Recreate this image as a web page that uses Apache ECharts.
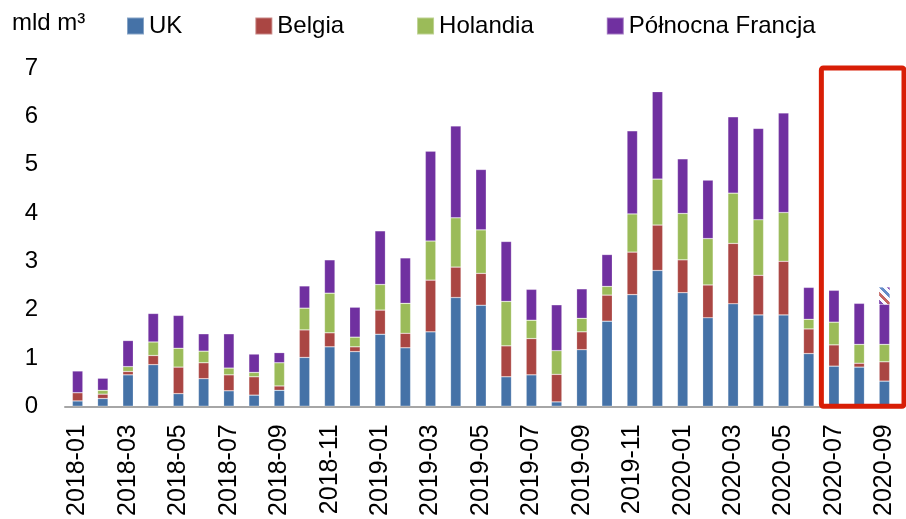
<!DOCTYPE html>
<html>
<head>
<meta charset="utf-8">
<script src="https://cdn.jsdelivr.net/npm/echarts@6/dist/echarts.min.js"></script>
<style>
html,body{margin:0;padding:0;background:#fff;}
#chart{width:906px;height:519px;}
</style>
</head>
<body>
<div id="chart"></div>
<script>
const categories = ['2018-01','2018-02','2018-03','2018-04','2018-05','2018-06','2018-07','2018-08','2018-09','2018-10','2018-11','2018-12',
  '2019-01','2019-02','2019-03','2019-04','2019-05','2019-06','2019-07','2019-08','2019-09','2019-10','2019-11','2019-12',
  '2020-01','2020-02','2020-03','2020-04','2020-05','2020-06','2020-07','2020-08','2020-09'];
const uk       = [0.11,0.16,0.65,0.86,0.26,0.57,0.32,0.23,0.33,1.01,1.23,1.13,1.49,1.21,1.54,2.25,2.09,0.61,0.65,0.09,1.17,1.76,2.31,2.81,2.35,1.83,2.12,1.89,1.89,1.09,0.83,0.81,0.52];
const belgia   = [0.17,0.09,0.07,0.19,0.55,0.33,0.33,0.38,0.09,0.57,0.29,0.10,0.50,0.30,1.07,0.63,0.66,0.64,0.75,0.57,0.37,0.54,0.88,0.94,0.68,0.68,1.25,0.82,1.11,0.51,0.44,0.08,0.40];
const holandia = [0.00,0.08,0.10,0.28,0.39,0.24,0.14,0.09,0.48,0.45,0.82,0.20,0.53,0.62,0.81,1.02,0.90,0.92,0.38,0.49,0.28,0.18,0.79,0.95,0.96,0.96,1.04,1.15,1.01,0.20,0.47,0.39,0.36];
const francja  = [0.45,0.25,0.54,0.59,0.68,0.36,0.71,0.38,0.21,0.46,0.69,0.62,1.11,0.94,1.86,1.90,1.25,1.24,0.64,0.95,0.61,0.66,1.72,1.81,1.13,1.21,1.58,1.89,2.06,0.66,0.66,0.85,0.83];
const prognoza = [null,null,null,null,null,null,null,null,null,null,null,null,null,null,null,null,null,null,null,null,null,null,null,null,null,null,null,null,null,null,null,null,0.35];
const yTicks = [0,1,2,3,4,5,6,7];
const unitLabel = 'mld m³';
const highlightFrom = '2020-07';

const FONT = '"Liberation Sans", Arial, sans-serif';

// hatch pattern (diagonal stripes)
function makeHatch(){
  const N = 24;
  const c = document.createElement('canvas');
  c.width = N; c.height = N;
  const ctx = c.getContext('2d');
  const img = ctx.createImageData(N, N);
  const cols = [[128,72,176],[250,250,255],[196,100,96],[250,250,255],[100,140,200],[250,250,255]];
  for (let y = 0; y < N; y++) {
    for (let x = 0; x < N; x++) {
      const d = ((x - y) % N + N) % N;
      const col = cols[Math.floor(d / (N / 6))];
      const i = (y * N + x) * 4;
      img.data[i] = col[0]; img.data[i+1] = col[1]; img.data[i+2] = col[2]; img.data[i+3] = 255;
    }
  }
  ctx.putImageData(img, 0, 0);
  return c;
}

const chart = echarts.init(document.getElementById('chart'), null, {renderer: 'canvas'});
const barW = 10.5;
function bar(name, data, color){
  return {
    name, type: 'bar', stack: 'total', data, barWidth: barW,
    itemStyle: {color, borderColor: 'rgba(255,255,255,0.35)', borderWidth: 0.6},
    emphasis: {disabled: true}
  };
}
const option = {
  animation: false,
  textStyle: {fontFamily: FONT},
  title: {
    text: unitLabel, left: 7, top: 6,
    textStyle: {fontFamily: FONT, fontSize: 24, fontWeight: 'normal', color: '#000'}
  },
  legend: {
    data: ['UK','Belgia','Holandia','Północna Francja'],
    left: 121, top: 9,
    icon: 'rect', itemWidth: 17, itemHeight: 17, itemGap: 72,
    textStyle: {fontFamily: FONT, fontSize: 24, color: '#000'}
  },
  grid: {left: 65, right: 9, top: 68, bottom: 112, containLabel: false},
  xAxis: {
    type: 'category', data: categories,
    axisTick: {show: false},
    axisLine: {lineStyle: {color: '#a6a6a6', width: 2}},
    axisLabel: {interval: 1, rotate: 90, margin: 18, fontFamily: FONT, fontSize: 25, color: '#000'}
  },
  yAxis: {
    type: 'value', min: yTicks[0], max: yTicks[yTicks.length-1], interval: 1,
    axisLine: {show: false}, axisTick: {show: false}, splitLine: {show: false},
    axisLabel: {margin: 27, fontFamily: FONT, fontSize: 24, color: '#000'}
  },
  series: [
    bar('UK', uk, '#4572A7'),
    bar('Belgia', belgia, '#AA4643'),
    bar('Holandia', holandia, '#9BBB59'),
    bar('Północna Francja', francja, '#7030A0'),
    {
      name: 'prognoza', type: 'bar', stack: 'total', data: prognoza, barWidth: barW,
      itemStyle: {color: {image: makeHatch(), repeat: 'repeat'}},
      emphasis: {disabled: true}
    }
  ]
};
chart.setOption(option);

// red highlight frame around the last months, positioned through the axes
const x0 = chart.convertToPixel({xAxisIndex: 0}, highlightFrom);
const band = chart.convertToPixel({xAxisIndex: 0}, categories[1]) - chart.convertToPixel({xAxisIndex: 0}, categories[0]);
const yTop = chart.convertToPixel({yAxisIndex: 0}, yTicks[yTicks.length-1]);
const yBot = chart.convertToPixel({yAxisIndex: 0}, 0);
const gridRight = 906 - 9;
chart.setOption({
  graphic: [{
    type: 'rect', z: 100,
    shape: {x: x0 - band/2, y: yTop, width: gridRight + 7 - (x0 - band/2), height: yBot - yTop, r: 2},
    style: {fill: 'none', stroke: '#D81E06', lineWidth: 5}
  }]
});
</script>
</body>
</html>
